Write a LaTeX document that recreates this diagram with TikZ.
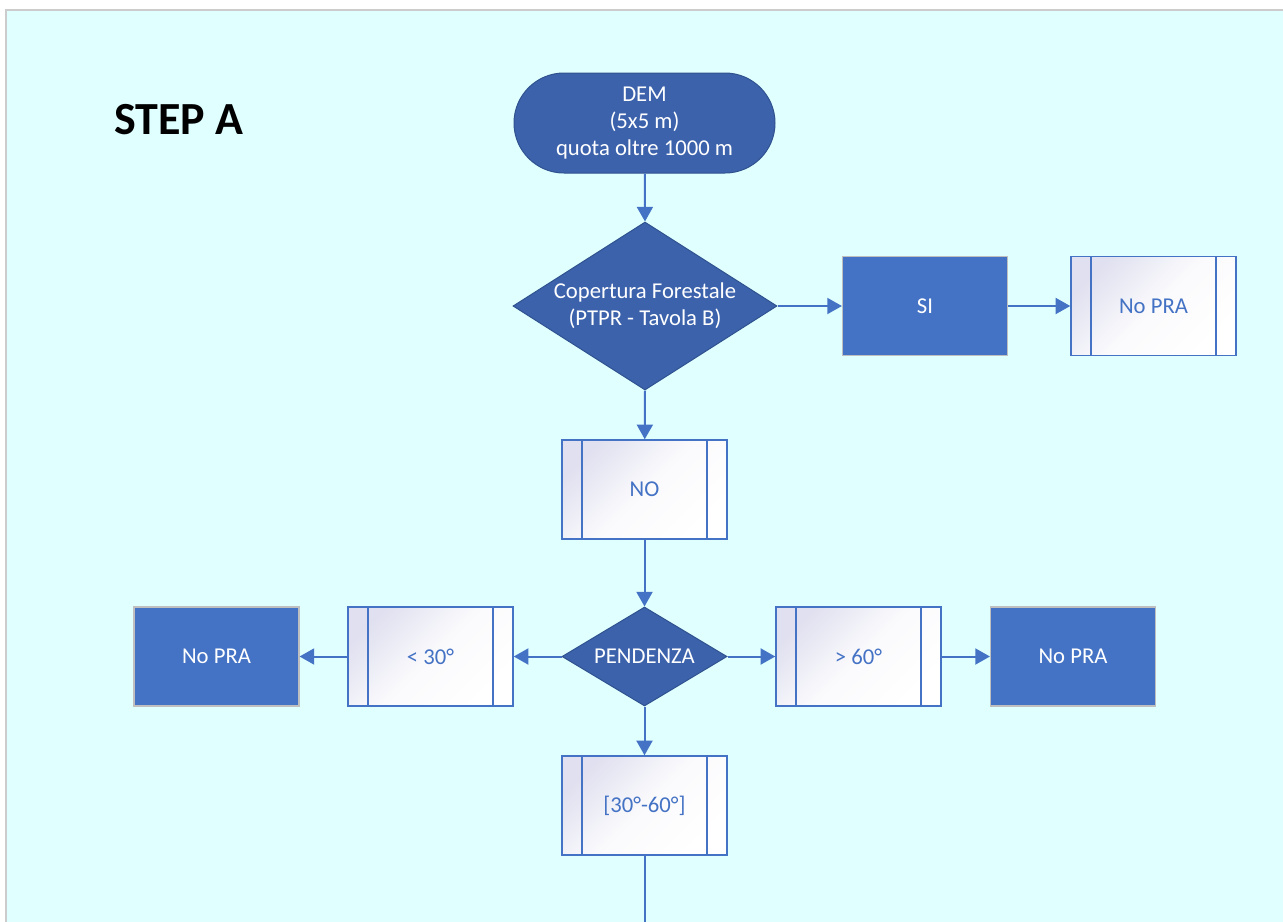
\documentclass[tikz,border=0pt]{standalone}
\usepackage{fontspec}
\setmainfont{Carlito}
\usetikzlibrary{shapes.geometric,arrows.meta}
\definecolor{bgc}{HTML}{E0FFFF}
\definecolor{dkb}{HTML}{3C62AC}
\definecolor{dkbline}{HTML}{2F528F}
\definecolor{mdb}{HTML}{4472C4}
\definecolor{lav}{HTML}{E0E0F0}
\definecolor{frm}{HTML}{CCCCCC}
\definecolor{sboxline}{HTML}{BFBFBF}
\begin{document}
\begin{tikzpicture}[x=0.75pt,y=-0.75pt,
  txtfont/.style={font=\fontsize{17}{20.25}\selectfont},
  term/.style={draw=dkbline, line width=0.75pt, fill=dkb, rounded corners=37.5pt,
    minimum width=195.75pt, minimum height=75pt, inner sep=0pt,
    text=white, txtfont, align=center},
  dia/.style={shape=diamond, draw=dkbline, line width=0.75pt, fill=dkb, inner sep=0pt},
  wtxt/.style={text=white, txtfont, align=center},
  sbox/.style={draw=sboxline, line width=1.1pt, fill=mdb,
    minimum width=123.5pt, minimum height=74pt, inner sep=0pt,
    text=white, txtfont},
  pbox/.style={draw=mdb, line width=1.1pt, top color=lav, bottom color=white, middle color=white!85!lav, shading angle=45,
    minimum width=123.75pt, minimum height=74.25pt, inner sep=0pt,
    text=mdb, txtfont,
    path picture={\draw[mdb, line width=1.1pt]
      ([xshift=15pt]path picture bounding box.north west) -- ([xshift=15pt]path picture bounding box.south west)
      ([xshift=-15pt]path picture bounding box.north east) -- ([xshift=-15pt]path picture bounding box.south east);}},
  arr/.style={draw=mdb, line width=1.5pt, -{Triangle[width=12pt,length=11pt]}},
  plain/.style={draw=mdb, line width=1.5pt},
  title/.style={font=\fontsize{34.5}{40}\selectfont\bfseries, text=black}
]
\useasboundingbox (0,0) rectangle (1283,922);
\fill[white] (0,0) rectangle (1283,922);
\fill[bgc] (6,10) rectangle (1283,922);
\draw[frm, line width=1.5pt] (6,922) -- (6,10) -- (1283,10);

\node[title] (step) at (179,120) {STEP A};

\node[term] (dem) at (644.5,123) {DEM\\(5x5 m)\\quota oltre 1000 m};

\node[dia, minimum width=198pt, minimum height=126pt] (d1) at (645,306) {};
\node[wtxt] (d1t) at (d1) {Copertura Forestale\\(PTPR - Tavola B)};

\node[sbox] (si) at (925,306) {SI};
\node[pbox] (np1) at (1153.5,306) {No PRA};

\node[pbox] (no) at (644.5,489.5) {NO};

\node[dia, minimum width=123.75pt, minimum height=74.25pt] (d2) at (644.5,656.5) {};
\node[wtxt] (d2t) at (d2) {PENDENZA};

\node[pbox] (lt) at (430.5,656.5) {< 30°};
\node[sbox] (np2) at (216.5,656.5) {No PRA};
\node[pbox] (gt) at (858.5,656.5) {> 60°};
\node[sbox] (np3) at (1073,656.5) {No PRA};
\node[pbox] (mid) at (644.5,805.5) {[30°-60°]};
\coordinate (down) at (644.5,922);

\draw[arr] (dem) -- (d1.north);
\draw[arr] (d1.east) -- (si);
\draw[arr] (si) -- (np1);
\draw[arr] (d1.south) -- (no);
\draw[arr] (no) -- (d2.north);
\draw[arr] (d2.west) -- (lt);
\draw[arr] (lt) -- (np2);
\draw[arr] (d2.east) -- (gt);
\draw[arr] (gt) -- (np3);
\draw[arr] (d2.south) -- (mid);
\draw[plain] (mid) -- (down);
\end{tikzpicture}
\end{document}
